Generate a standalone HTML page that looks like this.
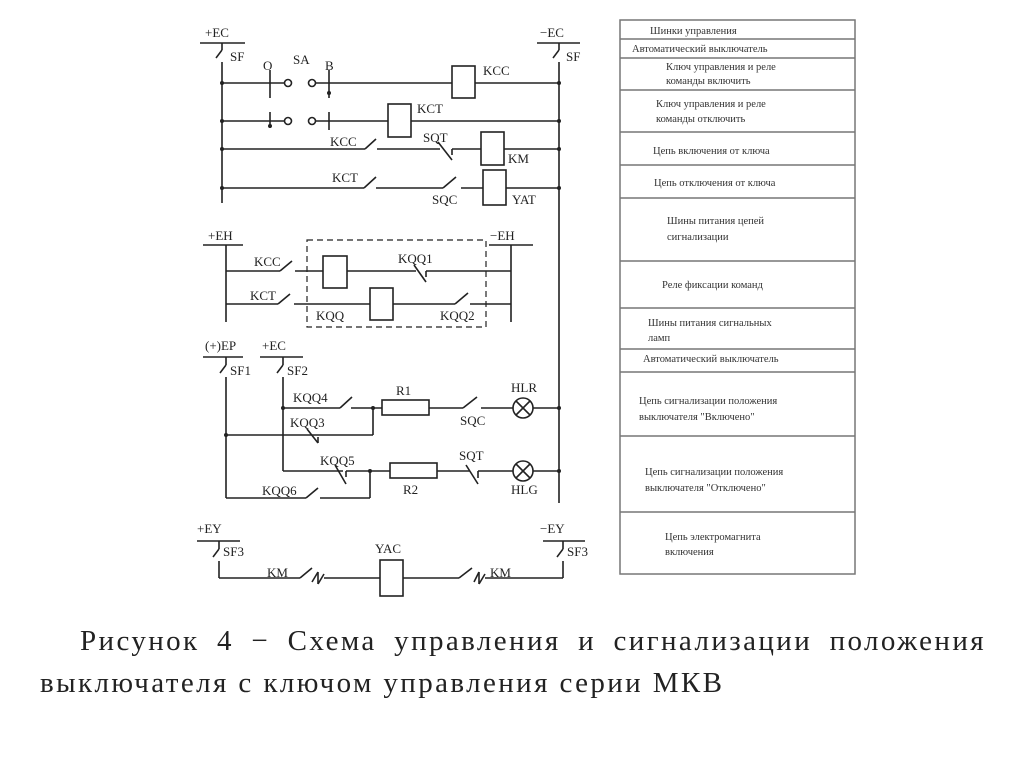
<!DOCTYPE html>
<html><head><meta charset="utf-8"><style>
body{margin:0;background:#fff;width:1024px;height:767px;overflow:hidden;position:relative;font-family:"Liberation Serif",serif}
.l1{position:absolute;left:80px;width:906px;top:620px;font-size:29px;letter-spacing:2.4px;line-height:42px;color:#222;text-align:justify;text-align-last:justify;white-space:nowrap}
.l2{position:absolute;left:40px;top:662px;font-size:29px;letter-spacing:2.4px;line-height:42px;color:#222;white-space:nowrap}
</style></head><body>
<svg width="1024" height="767" style="position:absolute;left:0;top:0" font-family="Liberation Serif, serif" font-size="12" fill="#222">
<g stroke="#222" stroke-width="1.6" fill="none">
<line x1="200" y1="43" x2="245" y2="43"/><line x1="537" y1="43" x2="580" y2="43"/>
<line x1="222" y1="43" x2="222" y2="50"/><line x1="222" y1="50" x2="216" y2="58"/><line x1="222" y1="62" x2="222" y2="203"/>
<line x1="559" y1="43" x2="559" y2="50"/><line x1="559" y1="50" x2="553" y2="58"/><line x1="559" y1="62" x2="559" y2="503"/>
<line x1="222" y1="83" x2="284" y2="83"/><circle cx="288" cy="83" r="3.5"/><circle cx="312" cy="83" r="3.5"/>
<line x1="316" y1="83" x2="452" y2="83"/><line x1="270" y1="70" x2="270" y2="98"/><line x1="329" y1="70" x2="329" y2="98"/>
<rect x="452" y="66" width="23" height="32"/><line x1="475" y1="83" x2="559" y2="83"/>
<line x1="222" y1="121" x2="284" y2="121"/><circle cx="288" cy="121" r="3.5"/><circle cx="312" cy="121" r="3.5"/>
<line x1="316" y1="121" x2="388" y2="121"/><line x1="270" y1="112" x2="270" y2="128"/><line x1="329" y1="112" x2="329" y2="130"/>
<rect x="388" y="104" width="23" height="33"/><line x1="411" y1="121" x2="559" y2="121"/>
<line x1="222" y1="149" x2="365" y2="149"/><line x1="365" y1="149" x2="376" y2="139"/><line x1="377" y1="149" x2="440" y2="149"/>
<line x1="438" y1="142" x2="452" y2="160"/><line x1="452" y1="149" x2="481" y2="149"/><line x1="452" y1="149" x2="452" y2="155"/>
<rect x="481" y="132" width="23" height="33"/><line x1="504" y1="149" x2="559" y2="149"/>
<line x1="222" y1="188" x2="364" y2="188"/><line x1="364" y1="188" x2="376" y2="177"/><line x1="376" y1="188" x2="443" y2="188"/>
<line x1="443" y1="188" x2="456" y2="177"/><line x1="461" y1="188" x2="483" y2="188"/>
<rect x="483" y="170" width="23" height="35"/><line x1="506" y1="188" x2="559" y2="188"/>
<line x1="203" y1="245" x2="243" y2="245"/><line x1="226" y1="245" x2="226" y2="322"/>
<line x1="489" y1="245" x2="533" y2="245"/><line x1="511" y1="245" x2="511" y2="322"/>
<rect x="307" y="240" width="179" height="87" stroke-dasharray="6,4" stroke-width="1.2"/>
<line x1="226" y1="271" x2="280" y2="271"/><line x1="280" y1="271" x2="292" y2="261"/><line x1="295" y1="271" x2="323" y2="271"/>
<rect x="323" y="256" width="24" height="32"/><line x1="347" y1="271" x2="416" y2="271"/><line x1="414" y1="265" x2="426" y2="282"/><line x1="426" y1="271" x2="511" y2="271"/><line x1="426" y1="271" x2="426" y2="277"/>
<line x1="226" y1="304" x2="278" y2="304"/><line x1="278" y1="304" x2="290" y2="294"/><line x1="294" y1="304" x2="370" y2="304"/>
<rect x="370" y="288" width="23" height="32"/><line x1="393" y1="304" x2="455" y2="304"/><line x1="455" y1="304" x2="468" y2="293"/><line x1="470" y1="304" x2="511" y2="304"/>
<line x1="203" y1="357" x2="243" y2="357"/><line x1="226" y1="357" x2="226" y2="365"/><line x1="226" y1="365" x2="220" y2="373"/><line x1="226" y1="377" x2="226" y2="498"/>
<line x1="260" y1="357" x2="303" y2="357"/><line x1="283" y1="357" x2="283" y2="365"/><line x1="283" y1="365" x2="277" y2="373"/><line x1="283" y1="377" x2="283" y2="471"/>
<line x1="283" y1="408" x2="340" y2="408"/><line x1="340" y1="408" x2="352" y2="397"/><line x1="351" y1="408" x2="382" y2="408"/>
<rect x="382" y="400" width="47" height="15"/><line x1="429" y1="408" x2="463" y2="408"/><line x1="463" y1="408" x2="477" y2="397"/><line x1="481" y1="408" x2="513" y2="408"/>
<circle cx="523" cy="408" r="10"/><line x1="516" y1="401" x2="530" y2="415"/><line x1="530" y1="401" x2="516" y2="415"/><line x1="533" y1="408" x2="559" y2="408"/>
<line x1="226" y1="435" x2="373" y2="435"/><line x1="373" y1="435" x2="373" y2="408"/><line x1="307" y1="429" x2="318" y2="443"/><line x1="318" y1="443" x2="318" y2="437"/>
<line x1="283" y1="471" x2="343" y2="471"/><line x1="335" y1="465" x2="346" y2="484"/><line x1="346" y1="471" x2="390" y2="471"/><line x1="346" y1="471" x2="346" y2="477"/>
<rect x="390" y="463" width="47" height="15"/><line x1="437" y1="471" x2="470" y2="471"/><line x1="466" y1="465" x2="478" y2="484"/><line x1="478" y1="471" x2="513" y2="471"/><line x1="478" y1="471" x2="478" y2="478"/>
<circle cx="523" cy="471" r="10"/><line x1="516" y1="464" x2="530" y2="478"/><line x1="530" y1="464" x2="516" y2="478"/><line x1="533" y1="471" x2="559" y2="471"/>
<line x1="226" y1="498" x2="306" y2="498"/><line x1="306" y1="498" x2="318" y2="488"/><line x1="320" y1="498" x2="370" y2="498"/><line x1="370" y1="498" x2="370" y2="471"/>
<line x1="197" y1="541" x2="240" y2="541"/><line x1="219" y1="541" x2="219" y2="549"/><line x1="219" y1="549" x2="213" y2="557"/><line x1="219" y1="561" x2="219" y2="578"/>
<line x1="543" y1="541" x2="585" y2="541"/><line x1="563" y1="541" x2="563" y2="549"/><line x1="563" y1="549" x2="557" y2="557"/><line x1="563" y1="561" x2="563" y2="578"/>
<line x1="219" y1="578" x2="300" y2="578"/><line x1="300" y1="578" x2="312" y2="568"/><line x1="312" y1="582" x2="318" y2="572"/><line x1="318" y1="572" x2="318" y2="584"/><line x1="318" y1="584" x2="324" y2="574"/><line x1="324" y1="578" x2="380" y2="578"/>
<rect x="380" y="560" width="23" height="36"/><line x1="403" y1="578" x2="459" y2="578"/><line x1="459" y1="578" x2="472" y2="568"/><line x1="474" y1="582" x2="479" y2="572"/><line x1="479" y1="572" x2="479" y2="584"/><line x1="479" y1="584" x2="485" y2="574"/><line x1="485" y1="578" x2="563" y2="578"/>
<rect x="620" y="20" width="235" height="554" stroke="#777" stroke-width="1.5"/>
<g stroke="#777" stroke-width="1.5"><line x1="620" y1="39" x2="855" y2="39"/><line x1="620" y1="58" x2="855" y2="58"/><line x1="620" y1="90" x2="855" y2="90"/><line x1="620" y1="132" x2="855" y2="132"/><line x1="620" y1="165" x2="855" y2="165"/><line x1="620" y1="198" x2="855" y2="198"/><line x1="620" y1="261" x2="855" y2="261"/><line x1="620" y1="308" x2="855" y2="308"/><line x1="620" y1="349" x2="855" y2="349"/><line x1="620" y1="372" x2="855" y2="372"/><line x1="620" y1="436" x2="855" y2="436"/><line x1="620" y1="512" x2="855" y2="512"/></g>
</g>
<g fill="#222" stroke="none">
<circle cx="329" cy="93" r="2"/><circle cx="270" cy="126" r="2"/><circle cx="373" cy="408" r="2"/><circle cx="370" cy="471" r="2"/>
<circle cx="222" cy="83" r="2"/><circle cx="222" cy="121" r="2"/><circle cx="222" cy="149" r="2"/><circle cx="222" cy="188" r="2"/>
<circle cx="559" cy="83" r="2"/><circle cx="559" cy="121" r="2"/><circle cx="559" cy="149" r="2"/><circle cx="559" cy="188" r="2"/><circle cx="559" cy="408" r="2"/><circle cx="559" cy="471" r="2"/>
<circle cx="226" cy="435" r="2"/><circle cx="283" cy="408" r="2"/>
</g>
<g font-size="13">
<text x="205" y="37">+EC</text><text x="230" y="61">SF</text><text x="540" y="37">−EC</text><text x="566" y="61">SF</text>
<text x="263" y="70">O</text><text x="293" y="64">SA</text><text x="325" y="70">B</text>
<text x="483" y="75">KCC</text><text x="417" y="113">KCT</text><text x="330" y="146">KCC</text><text x="423" y="142">SQT</text><text x="508" y="163">KM</text>
<text x="332" y="182">KCT</text><text x="432" y="204">SQC</text><text x="512" y="204">YAT</text>
<text x="208" y="240">+EH</text><text x="490" y="240">−EH</text>
<text x="254" y="266">KCC</text><text x="398" y="263">KQQ1</text><text x="250" y="300">KCT</text><text x="316" y="320">KQQ</text><text x="440" y="320">KQQ2</text>
<text x="205" y="350">(+)EP</text><text x="262" y="350">+EC</text><text x="230" y="375">SF1</text><text x="287" y="375">SF2</text>
<text x="293" y="402">KQQ4</text><text x="396" y="395">R1</text><text x="460" y="425">SQC</text><text x="511" y="392">HLR</text>
<text x="290" y="427">KQQ3</text><text x="320" y="465">KQQ5</text><text x="459" y="460">SQT</text><text x="403" y="494">R2</text><text x="511" y="494">HLG</text><text x="262" y="495">KQQ6</text>
<text x="197" y="533">+EY</text><text x="540" y="533">−EY</text><text x="223" y="556">SF3</text><text x="567" y="556">SF3</text>
<text x="267" y="577">KM</text><text x="375" y="553">YAC</text><text x="490" y="577">KM</text>
</g>
<g font-size="10.5" fill="#333">
<text x="650" y="34">Шинки управления</text>
<text x="632" y="52">Автоматический выключатель</text>
<text x="666" y="70">Ключ управления и реле</text><text x="666" y="84">команды включить</text>
<text x="656" y="107">Ключ управления и реле</text><text x="656" y="122">команды отключить</text>
<text x="653" y="154">Цепь включения от ключа</text>
<text x="654" y="186">Цепь отключения от ключа</text>
<text x="667" y="224">Шины питания цепей</text><text x="667" y="240">сигнализации</text>
<text x="662" y="288">Реле фиксации команд</text>
<text x="648" y="326">Шины питания сигнальных</text><text x="648" y="341">ламп</text>
<text x="643" y="362">Автоматический выключатель</text>
<text x="639" y="404">Цепь сигнализации положения</text><text x="639" y="420">выключателя "Включено"</text>
<text x="645" y="475">Цепь сигнализации положения</text><text x="645" y="491">выключателя "Отключено"</text>
<text x="665" y="540">Цепь электромагнита</text><text x="665" y="555">включения</text>
</g>
</svg>
<div class="l1">Рисунок 4 − Схема управления и сигнализации положения</div>
<div class="l2">выключателя с ключом управления серии МКВ</div>
</body></html>
